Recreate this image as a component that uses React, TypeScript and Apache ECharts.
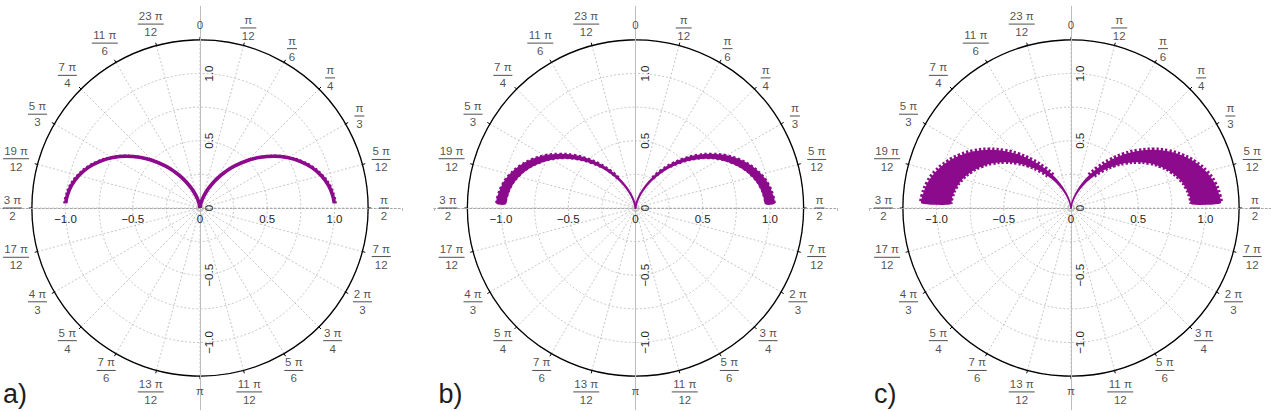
import React, { useEffect, useRef } from 'react';
import * as echarts from 'echarts';

// ---- data ----
const ARC_ANGLES = [0, 5, 10, 15, 20, 25, 30, 35, 40, 45, 50, 55, 60, 65, 70, 75, 80, 85, 88];
const BASE_R = [0, 0.008, 0.03, 0.067, 0.117, 0.179, 0.25, 0.329, 0.413, 0.5, 0.587, 0.671, 0.75, 0.821, 0.883, 0.933, 0.97, 0.992, 0.999];
const A_OUTER = [0, 0.008, 0.03, 0.068, 0.118, 0.181, 0.253, 0.333, 0.418, 0.506, 0.594, 0.679, 0.759, 0.831, 0.894, 0.944, 0.982, 1.004, 1.011];
const B_OUTER = [0, 0.008, 0.031, 0.069, 0.121, 0.184, 0.258, 0.339, 0.425, 0.515, 0.605, 0.691, 0.773, 0.846, 0.909, 0.961, 0.999, 1.022, 1.029];
const B_INNER = [0, 0.008, 0.029, 0.065, 0.113, 0.174, 0.243, 0.319, 0.401, 0.485, 0.569, 0.651, 0.728, 0.796, 0.857, 0.905, 0.941, 0.962, 0.969];
const C_OUTER = [0, 0.009, 0.033, 0.074, 0.13, 0.199, 0.278, 0.365, 0.458, 0.555, 0.652, 0.745, 0.833, 0.911, 0.98, 1.036, 1.077, 1.101, 1.109];
const C_INNER = [0, 0.007, 0.027, 0.06, 0.105, 0.161, 0.225, 0.296, 0.372, 0.45, 0.528, 0.604, 0.675, 0.739, 0.795, 0.84, 0.873, 0.893, 0.899];

const ANGLE_TICKS = [0, 15, 30, 45, 60, 75, 90, 105, 120, 135, 150, 165, 180, 195, 210, 225, 240, 255, 270, 285, 300, 315, 330, 345];
const ANGLE_LABELS = ['0', 'π/12', 'π/6', 'π/4', 'π/3', '5 π/12', 'π/2', '7 π/12', '2 π/3', '3 π/4', '5 π/6', '11 π/12', 'π',
  '13 π/12', '7 π/6', '5 π/4', '4 π/3', '17 π/12', '3 π/2', '19 π/12', '5 π/3', '7 π/4', '11 π/6', '23 π/12'];
const RADIAL_TICKS = [-1, -0.5, 0, 0.5, 1];
const PANEL_LETTERS = ['a)', 'b)', 'c)'];

// ---- layout / style ----
const PURPLE = '#8c0a8c';
const TXT = '#1e1e1e';
const FONT = '"Liberation Sans", Arial, sans-serif';
const FS = 11.5;
const SCALE = 134.5; // px per unit
const CENTERS = [200, 635.5, 1071];
const CY = 208;

const charW = (c: string) => (c === ' ' ? 0.278 : c === 'π' ? 0.57 : 0.556) * FS;
const textW = (s: string) => s.split('').reduce((a, c) => a + charW(c), 0);

const rich: Record<string, any> = {
  n: { fontSize: FS, lineHeight: 13, align: 'center', color: TXT, fontFamily: FONT },
};
const labelStr: string[] = [];
const labelWidth: number[] = [];
ANGLE_LABELS.forEach((t) => {
  if (t.indexOf('/') < 0) {
    labelStr.push(`{n|${t}}`);
    labelWidth.push(textW(t));
  } else {
    const [num, den] = t.split('/');
    const w = Math.round(Math.max(textW(num), textW(den)) + 3);
    const key = 'b' + w;
    rich[key] = { width: w, height: 1, lineHeight: 3, fontSize: 1, backgroundColor: '#222', align: 'center' };
    labelStr.push(`{n|${num}}\n{${key}| }\n{n|${den}}`);
    labelWidth.push(w);
  }
});

const fmtR = (v: number) => (v === 0 ? '0' : (v < 0 ? '\u2212' : '') + Math.abs(v).toFixed(1));

function buildOption() {
  const polar: any[] = [];
  const angleAxis: any[] = [];
  const radiusAxis: any[] = [];
  const grid: any[] = [];
  const xAxis: any[] = [];
  const yAxis: any[] = [];
  const series: any[] = [];
  const graphic: any[] = [];
  const half = 1.5 * SCALE;
  const hidden = (gi: number) => ({ gridIndex: gi, type: 'value', min: -1.5, max: 1.5, show: false });

  CENTERS.forEach((cx, p) => {
    polar.push({ center: [cx, CY], radius: 1.25 * SCALE });
    angleAxis.push({
      polarIndex: p, type: 'value', min: 0, max: 360, interval: 15, startAngle: 90, clockwise: true,
      axisLine: { lineStyle: { color: '#000', width: 1.3 } },
      axisTick: { show: true, length: 3, lineStyle: { color: '#000', width: 1 } },
      axisLabel: { show: false },
      splitLine: { show: true, lineStyle: { color: '#b8b8b8', width: 0.8, type: [2, 2] } },
    });
    radiusAxis.push({
      polarIndex: p, type: 'value', min: 0, max: 1.25, interval: 0.25,
      axisLine: { show: false }, axisTick: { show: false }, axisLabel: { show: false },
      splitLine: { show: true, lineStyle: { color: '#b8b8b8', width: 0.8, type: [2, 2] } },
    });

    // horizontal axis: a flat grid whose bottom edge sits on the centre line
    const gx = grid.length;
    grid.push({ left: cx - half, top: CY - 20, width: 2 * half, height: 20, containLabel: false, outerBoundsMode: 'none' });
    xAxis.push({
      gridIndex: gx, type: 'value', min: -1.5, max: 1.5, position: 'bottom',
      axisLine: { onZero: false, lineStyle: { color: '#a8a8a8', width: 1, type: [2, 2] } },
      axisTick: { show: true, customValues: [-1.5, 1.5], length: 3, lineStyle: { color: '#bbb' } },
      axisLabel: { customValues: RADIAL_TICKS, formatter: fmtR, margin: 5, fontSize: FS, color: TXT, fontFamily: FONT },
      splitLine: { show: false },
    });
    yAxis.push(hidden(gx));

    // vertical axis: a narrow grid whose left edge sits on the centre line
    const gy = grid.length;
    grid.push({ left: cx, top: CY - half, width: 20, height: 2 * half, containLabel: false, outerBoundsMode: 'none' });
    yAxis.push({
      gridIndex: gy, type: 'value', min: -1.5, max: 1.5, position: 'left',
      axisLine: { onZero: false, lineStyle: { color: '#bdbdbd', width: 1 } },
      axisTick: { show: false },
      axisLabel: { customValues: RADIAL_TICKS, formatter: fmtR, inside: true, rotate: 90, margin: 3, fontSize: FS, color: TXT, fontFamily: FONT },
      splitLine: { show: false },
    });
    xAxis.push(hidden(gy));

    // angle labels
    series.push({
      type: 'scatter', coordinateSystem: 'polar', polarIndex: p, symbolSize: 1, clip: false, silent: true, z: 5,
      itemStyle: { color: 'rgba(0,0,0,0)' },
      data: ANGLE_TICKS.map((a, k) => [(180 + 0.4 * labelWidth[k]) / SCALE, a]),
      label: {
        show: true, position: 'inside', formatter: (prm: any) => labelStr[prm.dataIndex],
        rich, fontSize: FS, color: TXT, fontFamily: FONT, align: 'center', verticalAlign: 'middle',
      },
    });

    const sides = [1, -1];
    const ang = (i: number, s: number) => (s > 0 ? ARC_ANGLES[i] : 360 - ARC_ANGLES[i]);
    const arc = (rs: number[], s: number, from = 0) =>
      rs.map((r, i) => [r, ang(i, s)]).slice(from);
    const line = (rs: number[], s: number, width: number, type: any, from = 0) => ({
      type: 'line', coordinateSystem: 'polar', polarIndex: p, data: arc(rs, s, from), showSymbol: false, smooth: true,
      silent: true, z: 3, lineStyle: { color: PURPLE, width, type, cap: 'butt' },
    });
    const band = (outer: number[], inner: number[], s: number, lw: number) => ({
      type: 'custom', coordinateSystem: 'polar', polarIndex: p, silent: true, z: 3, data: [[0.5, 45]],
      renderItem: (_params: any, api: any) => {
        const pts: number[][] = [];
        outer.forEach((r, i) => pts.push(api.coord([r, ang(i, s)])));
        for (let i = inner.length - 1; i >= 0; i--) pts.push(api.coord([inner[i], ang(i, s)]));
        return { type: 'polygon', shape: { points: pts, smooth: 0.2 }, style: { fill: PURPLE, stroke: PURPLE, lineWidth: lw, lineJoin: 'round' } };
      },
    });

    sides.forEach((s) => {
      if (p === 0) {
        series.push(line(BASE_R, s, 3.6, 'solid'));
        series.push(line(A_OUTER, s, 2, [2, 2.4], 8));
      } else if (p === 1) {
        series.push(band(B_OUTER, B_INNER, s, 2));
        series.push(line(B_OUTER, s, 4, [2.4, 2.4], 6));
        series.push(line(B_INNER, s, 3, [2.4, 2.4], 8));
      } else {
        series.push(band(C_OUTER, C_INNER, s, 1.5));
        series.push(line(C_OUTER, s, 6, [2.3, 2.0], 6));
        series.push(line(C_INNER, s, 5, [2.3, 2.0], 7));
      }
    });

    graphic.push({
      type: 'text', x: cx - 197, y: 394,
      style: { text: PANEL_LETTERS[p], fontSize: 27, fill: TXT, fontFamily: FONT, verticalAlign: 'middle', fontWeight: 'normal' },
    });
  });

  return { animation: false, backgroundColor: '#fff', polar, angleAxis, radiusAxis, grid, xAxis, yAxis, series, graphic };
}

export default function App() {
  const ref = useRef<HTMLDivElement>(null);
  useEffect(() => {
    if (!ref.current) return;
    const chart = echarts.init(ref.current, undefined, { renderer: 'svg' });
    chart.setOption(buildOption() as any);
    return () => chart.dispose();
  }, []);
  return <div ref={ref} style={{ position: 'fixed', left: 0, top: 0, width: 1271, height: 412 }} />;
}
